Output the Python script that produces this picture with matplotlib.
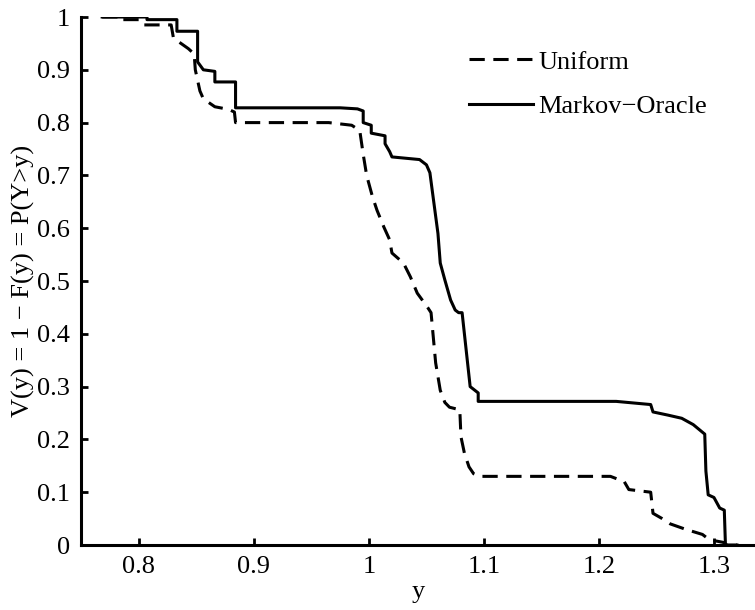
import matplotlib
matplotlib.use("Agg")
import matplotlib.pyplot as plt

# Uniform (dashed) survival curve vertices
uniform_x = [0.768, 0.786, 0.786, 0.800, 0.803, 0.828, 0.830, 0.843, 0.848, 0.849,
             0.853, 0.856, 0.866, 0.878, 0.883, 0.884, 0.965, 0.985, 0.992, 0.995,
             0.998, 1.003, 1.007, 1.013, 1.018, 1.020, 1.030, 1.036, 1.042, 1.051,
             1.054, 1.058, 1.062, 1.066, 1.070, 1.079, 1.080, 1.083, 1.087, 1.091,
             1.096, 1.210, 1.222, 1.226, 1.245, 1.247, 1.255, 1.262, 1.275, 1.290,
             1.296, 1.308, 1.311, 1.320]
uniform_y = [1.000, 1.000, 0.995, 0.995, 0.985, 0.985, 0.960, 0.940, 0.930, 0.900,
             0.860, 0.845, 0.830, 0.825, 0.820, 0.800, 0.800, 0.795, 0.785, 0.740,
             0.700, 0.660, 0.634, 0.602, 0.578, 0.553, 0.534, 0.508, 0.477, 0.450,
             0.440, 0.345, 0.293, 0.270, 0.261, 0.256, 0.205, 0.174, 0.148, 0.135,
             0.130, 0.130, 0.120, 0.105, 0.100, 0.060, 0.050, 0.040, 0.030, 0.020,
             0.010, 0.005, 0.000, 0.000]

# Markov-Oracle (solid) survival curve vertices
markov_x = [0.768, 0.807, 0.807, 0.833, 0.833, 0.851, 0.851, 0.856, 0.866, 0.866,
            0.884, 0.884, 0.975, 0.990, 0.995, 0.995, 1.002, 1.002, 1.014, 1.014,
            1.018, 1.020, 1.044, 1.050, 1.053, 1.055, 1.060, 1.062, 1.066, 1.071,
            1.075, 1.078, 1.081, 1.088, 1.095, 1.095, 1.215, 1.235, 1.245, 1.247,
            1.260, 1.272, 1.282, 1.292, 1.293, 1.295, 1.300, 1.305, 1.309, 1.310,
            1.320]
markov_y = [1.000, 1.000, 0.995, 0.995, 0.973, 0.973, 0.915, 0.900, 0.897, 0.877,
            0.877, 0.828, 0.828, 0.826, 0.822, 0.800, 0.795, 0.780, 0.775, 0.760,
            0.745, 0.735, 0.730, 0.720, 0.705, 0.672, 0.590, 0.534, 0.502, 0.464,
            0.445, 0.440, 0.440, 0.300, 0.288, 0.272, 0.272, 0.268, 0.266, 0.252,
            0.246, 0.240, 0.228, 0.210, 0.140, 0.095, 0.090, 0.070, 0.066, 0.000,
            0.000]

x_ticks = [0.8, 0.9, 1.0, 1.1, 1.2, 1.3]
x_tick_labels = ["0.8", "0.9", "1", "1.1", "1.2", "1.3"]
y_ticks = [0, 0.1, 0.2, 0.3, 0.4, 0.5, 0.6, 0.7, 0.8, 0.9, 1.0]
y_tick_labels = ["0", "0.1", "0.2", "0.3", "0.4", "0.5", "0.6", "0.7", "0.8", "0.9", "1"]

plt.rcParams['font.family'] = ['Liberation Serif', 'DejaVu Serif']

fig = plt.figure(figsize=(7.55, 6.10), dpi=100)
ax = fig.add_axes([81/755, 65/610, 1 - 81/755, (545-17)/610])

ax.plot(uniform_x, uniform_y, color='black', lw=2.2, dashes=(5, 2.8), label='Uniform')
ax.plot(markov_x, markov_y, color='black', lw=2.2, label='Markov\u2212Oracle')

ax.set_xlim(0.7496, 1.3357)
ax.set_ylim(0, 1)
ax.set_xticks(x_ticks)
ax.set_xticklabels(x_tick_labels)
ax.set_yticks(y_ticks)
ax.set_yticklabels(y_tick_labels)
ax.tick_params(direction='in', length=5, width=2, labelsize=19, pad=8)
for s in ['top', 'right']:
    ax.spines[s].set_visible(False)
for s in ['left', 'bottom']:
    ax.spines[s].set_linewidth(2.2)

ax.set_xlabel('y', fontsize=19, labelpad=2)
ax.set_ylabel('V(y) = 1 \u2212 F(y) = P(Y>y)', fontsize=19, labelpad=1)

leg = ax.legend(loc='upper left', bbox_to_anchor=(0.541, 0.982), frameon=False,
                fontsize=19, handlelength=2.4, handletextpad=0.2, labelspacing=0.8)

fig.savefig('out.png', dpi=100)
